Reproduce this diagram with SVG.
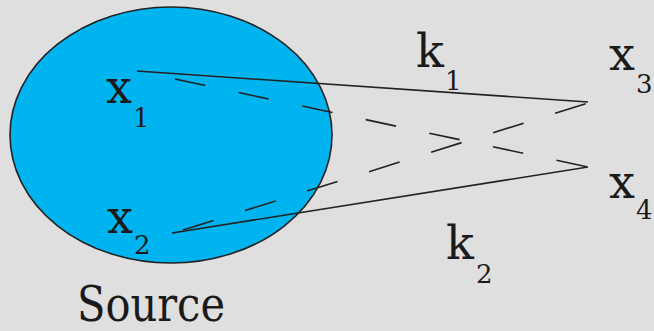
<svg xmlns="http://www.w3.org/2000/svg" width="654" height="331" viewBox="0 0 654 331">
<style>
text{font-family:'DejaVu Serif',serif;fill:#1a1a1a}
.lbl{font-size:46px}
.sub{font-size:26px}
.src{font-size:48px}
.edge{stroke:#222;stroke-width:1.6;fill:none}
.dash{stroke-dasharray:31 34}
</style>
<rect width="654" height="331" fill="#dfdfdf"/>
<g id="source">
<ellipse cx="171" cy="135" rx="161" ry="128" fill="#00b4f0" stroke="#222" stroke-width="1.6"/>
<text class="src" x="77" y="321" textLength="148" lengthAdjust="spacingAndGlyphs">Source</text>
</g>
<g id="x1"><text class="lbl" x="106" y="103">x<tspan class="sub" x="133" y="127">1</tspan></text></g>
<g id="x2"><text class="lbl" x="107" y="233">x<tspan class="sub" x="134" y="254">2</tspan></text></g>
<g id="x3"><text class="lbl" x="609" y="70">x<tspan class="sub" x="636" y="93">3</tspan></text></g>
<g id="x4"><text class="lbl" x="609" y="198">x<tspan class="sub" x="636" y="219">4</tspan></text></g>
<g id="connectors">
<line class="edge" x1="137" y1="71" x2="588" y2="102"/>
<line class="edge" x1="172" y1="233" x2="588" y2="167"/>
<line class="edge dash" x1="175" y1="79" x2="588" y2="167"/>
<line class="edge dash" x1="183" y1="230" x2="588" y2="103" style="stroke-dasharray:32 33"/>
</g>
<g id="k1"><text class="lbl" x="416" y="67">k<tspan class="sub" x="445" y="90">1</tspan></text></g>
<g id="k2"><text class="lbl" x="446" y="259">k<tspan class="sub" x="476" y="283">2</tspan></text></g>
</svg>
